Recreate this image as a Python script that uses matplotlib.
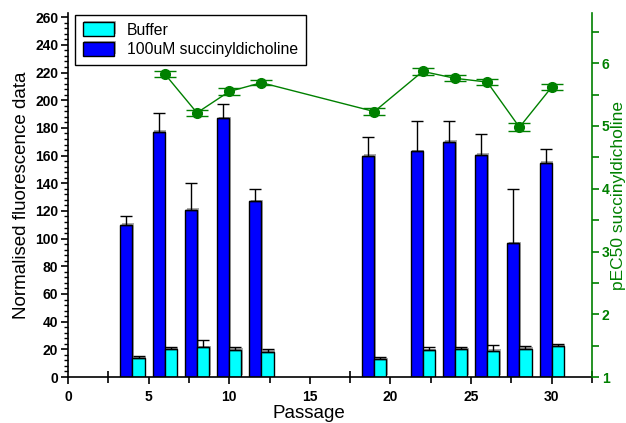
import matplotlib
matplotlib.use('Agg')
import matplotlib.pyplot as plt
import matplotlib.patheffects as pe
from matplotlib.ticker import MultipleLocator

plt.rcParams['font.family'] = ['Liberation Sans', 'DejaVu Sans']

# passages where both conditions were measured
passage = [4, 6, 8, 10, 12, 19, 22, 24, 26, 28, 30]
succ_mean = [110, 177, 121, 187, 127, 160, 163, 170, 160.5, 96.5, 155]
succ_err = [6, 13.5, 19, 10.5, 9, 13.5, 22, 15, 15, 39.5, 9.5]
buffer_mean = [13.5, 20, 21.5, 19.8, 18.3, 12.8, 19.3, 20, 18.8, 20.5, 22.2]
buffer_err = [1.5, 1.5, 5, 1.7, 1.7, 1.9, 2.2, 1.5, 4.2, 1.7, 1.9]

# pEC50 values (no point for passage 4)
pec_passage = [6, 8, 10, 12, 19, 22, 24, 26, 28, 30]
pec50 = [5.83, 5.21, 5.55, 5.69, 5.23, 5.87, 5.76, 5.70, 4.98, 5.62]
pec50_err = [0.05, 0.05, 0.05, 0.04, 0.05, 0.05, 0.05, 0.05, 0.06, 0.05]

green = '#008000'
w = 0.75

fig = plt.figure(figsize=(6.26, 4.23), dpi=100)
ax = fig.add_axes([0.1086, 0.1087, 0.8371, 0.8605])

shadow = [pe.SimplePatchShadow(offset=(1.2, 1.2), shadow_rgbFace='#888888', alpha=0.7), pe.Normal()]

x_succ = [p - w / 2 for p in passage]
x_buf = [p + w / 2 for p in passage]
b1 = ax.bar(x_succ, succ_mean, width=w, color='#0000FF', edgecolor='black', linewidth=1,
            label='100uM succinyldicholine', zorder=2)
b2 = ax.bar(x_buf, buffer_mean, width=w, color='#00FFFF', edgecolor='black', linewidth=1,
            label='Buffer', zorder=2)
for b in list(b1) + list(b2):
    b.set_path_effects(shadow)

ax.errorbar(x_succ, succ_mean, yerr=[[0] * len(succ_err), succ_err], fmt='none',
            ecolor='black', elinewidth=1, capsize=4.5, capthick=1, zorder=3)
ax.errorbar(x_buf, buffer_mean, yerr=[[0] * len(buffer_err), buffer_err], fmt='none',
            ecolor='black', elinewidth=1, capsize=4.5, capthick=1, zorder=3)

ax.set_xlim(0, 32.5)
ax.set_ylim(0, 263)
ax.xaxis.set_major_locator(MultipleLocator(5))
ax.xaxis.set_minor_locator(MultipleLocator(2.5))
ax.yaxis.set_major_locator(MultipleLocator(20))
ax.yaxis.set_minor_locator(MultipleLocator(4))
ax.spines['top'].set_visible(False)
ax.spines['right'].set_visible(False)
ax.spines['left'].set_linewidth(1.2)
ax.spines['bottom'].set_linewidth(1.2)
ax.tick_params(axis='x', which='major', direction='out', length=5, width=1.2, labelsize=10, pad=4)
ax.tick_params(axis='x', which='minor', direction='inout', length=8, width=1.2)
ax.tick_params(axis='y', which='major', direction='out', length=5, width=1.2, labelsize=10, pad=2)
ax.tick_params(axis='y', which='minor', direction='out', length=3, width=1)
for lab in ax.get_xticklabels() + ax.get_yticklabels():
    lab.set_fontweight('bold')

ax.set_xlabel('Passage', fontsize=13.5)
ax.xaxis.set_label_coords(0.459, -0.077)
ax.set_ylabel('Normalised fluorescence data', fontsize=13.5)
ax.yaxis.set_label_coords(-0.073, 0.5)

handles = [b2, b1]
ax.legend(handles, [h.get_label() for h in handles], loc='upper left',
          bbox_to_anchor=(0.01, 1.0), borderaxespad=0.1, fontsize=11.3, frameon=True,
          fancybox=False, edgecolor='black', framealpha=1, borderpad=0.5, handlelength=2.0,
          handleheight=0.95, handletextpad=0.8, labelspacing=0.3)
ax.get_legend().get_frame().set_linewidth(1)

ax2 = ax.twinx()
ax2.errorbar(pec_passage, pec50, yerr=pec50_err, fmt='-o', color=green, ecolor=green,
             markersize=7, linewidth=1, elinewidth=1, capsize=8, capthick=1, zorder=4)
ax2.set_ylim(1, 6.8)
ax2.yaxis.set_major_locator(MultipleLocator(1))
ax2.yaxis.set_minor_locator(MultipleLocator(0.5))
for s in ['top', 'left', 'bottom']:
    ax2.spines[s].set_visible(False)
ax2.spines['right'].set_color(green)
ax2.spines['right'].set_linewidth(1.2)
ax2.tick_params(axis='y', which='major', colors=green, direction='out', length=5, width=1.2,
                labelsize=10, pad=2)
ax2.tick_params(axis='y', which='minor', colors=green, direction='out', length=5, width=1.2)
for lab in ax2.get_yticklabels():
    lab.set_fontweight('bold')
ax2.set_ylabel('pEC50 succinyldicholine', fontsize=12.5, color=green)
ax2.yaxis.set_label_coords(1.037, 0.5)

fig.savefig('out.png', dpi=100)
